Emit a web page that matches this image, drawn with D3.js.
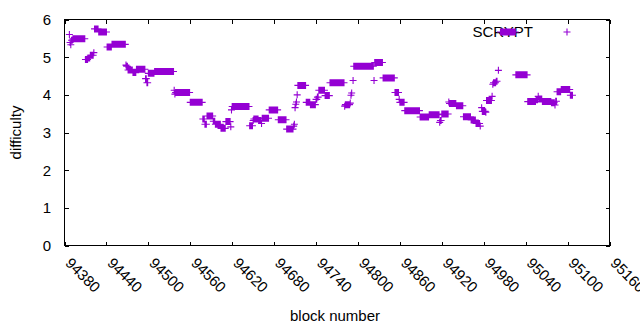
<!DOCTYPE html>
<html><head><meta charset="utf-8">
<script src="https://cdn.jsdelivr.net/npm/d3@7"></script>
<style>body{margin:0;background:#fff}svg{display:block}text{font-family:"Liberation Sans",Arial,sans-serif}</style>
</head><body><svg id="c" width="640" height="330"></svg>
<script>
// Run-length data: each block from runStart..runEnd has difficulty runDiff
const runStart=[94387,94388,94389,94390,94392,94410,94414,94417,94422,94423,94429,94441,94448,94468,94469,94471,94478,94483,94496,94498,94500,94509,94537,94538,94539,94560,94578,94581,94584,94593,94596,94604,94611,94618,94619,94620,94645,94650,94651,94658,94662,94663,94673,94686,94698,94708,94709,94710,94711,94712,94713,94714,94726,94732,94740,94742,94744,94753,94760,94781,94782,94789,94790,94791,94793,94794,94823,94824,94836,94853,94859,94860,94867,94889,94902,94917,94918,94920,94930,94931,94941,94951,94962,94969,94975,94977,94978,94983,94984,94992,94993,94994,94998,95001,95004,95026,95043,95055,95058,95059,95064,95077,95082,95083,95085,95091,95104];
const runEnd=[94387,94388,94389,94391,94409,94413,94416,94421,94422,94428,94440,94447,94467,94468,94470,94477,94482,94495,94497,94499,94508,94536,94537,94538,94559,94577,94580,94583,94592,94595,94603,94610,94617,94618,94619,94644,94649,94650,94657,94661,94662,94672,94685,94697,94707,94708,94709,94710,94711,94712,94713,94725,94731,94739,94741,94743,94752,94759,94780,94781,94788,94789,94790,94791,94793,94822,94823,94835,94852,94858,94859,94866,94888,94901,94916,94917,94919,94929,94930,94940,94950,94961,94968,94974,94975,94977,94982,94983,94991,94992,94993,94997,94999,95001,95025,95042,95054,95057,95058,95063,95076,95081,95082,95084,95090,95103,95107];
const runDiff=[5.60,5.39,5.33,5.45,5.49,4.94,4.98,5.05,5.12,5.75,5.67,5.27,5.34,4.79,4.76,4.66,4.59,4.68,4.43,4.32,4.57,4.62,4.12,4.02,4.06,3.80,3.36,3.22,3.44,3.30,3.22,3.11,3.29,3.15,3.60,3.69,3.18,3.32,3.36,3.32,3.24,3.38,3.60,3.34,3.09,3.17,3.22,3.66,3.75,3.81,4.00,4.25,3.80,3.74,3.88,3.94,4.12,3.98,4.32,3.70,3.74,3.78,3.99,4.05,4.38,4.76,4.38,4.86,4.45,4.06,3.88,3.80,3.58,3.41,3.47,3.27,3.32,3.49,3.81,3.77,3.71,3.42,3.33,3.24,3.17,3.66,3.56,3.54,3.85,3.96,4.28,4.32,4.36,4.65,5.67,4.53,3.82,3.87,3.96,3.89,3.82,3.79,3.73,3.83,4.08,4.14,3.99];
const xTicks=[94380,94440,94500,94560,94620,94680,94740,94800,94860,94920,94980,95040,95100,95160];
const yTicks=[0,1,2,3,4,5,6];
const seriesName="SCRYPT";

const points=[];
runStart.forEach((s,i)=>{for(let b=s;b<=runEnd[i];b++)points.push({block:b,diff:runDiff[i]});});

const svg=d3.select("#c");
const L=64.5,R=609.5,T=19.5,B=245.5;
const x=d3.scaleLinear().domain([94380,95160]).range([L,R]);
const y=d3.scaleLinear().domain([0,6]).range([B,T]);
const col="#9400d3";
const fs=15;

// ticks (inward, mirrored)
const tk=svg.append("g").attr("stroke","#000").attr("stroke-width",1).attr("shape-rendering","crispEdges");
xTicks.forEach(v=>{const px=Math.round(x(v))+0.5;
  tk.append("line").attr("x1",px).attr("x2",px).attr("y1",B).attr("y2",B-4);
  tk.append("line").attr("x1",px).attr("x2",px).attr("y1",T).attr("y2",T+4);});
yTicks.forEach(v=>{const py=Math.round(y(v))+0.5;
  tk.append("line").attr("x1",L).attr("x2",L+4).attr("y1",py).attr("y2",py);
  tk.append("line").attr("x1",R).attr("x2",R-4).attr("y1",py).attr("y2",py);});

// labels
yTicks.forEach(v=>svg.append("text").attr("x",51).attr("y",y(v)).attr("dy","0.36em")
  .attr("text-anchor","end").attr("font-size",fs).attr("fill","#000").text(v));
xTicks.forEach(v=>svg.append("text").attr("transform",`translate(${x(v)},264) rotate(45)`)
  .attr("font-size",fs).attr("fill","#000").text(v));
svg.append("text").attr("x",335).attr("y",321).attr("text-anchor","middle").attr("font-size",fs).text("block number");
svg.append("text").attr("transform","translate(21,132.5) rotate(-90)").attr("text-anchor","middle").attr("font-size",fs).text("difficulty");

// legend text
svg.append("text").attr("x",533).attr("y",37).attr("text-anchor","end").attr("font-size",fs).attr("fill","#000").text(seriesName);

// points
const h=3.5;
const plus=(px,py)=>`M${px-h},${py}h${2*h}M${px},${py-h}v${2*h}`;
svg.append("path").attr("fill","none").attr("stroke",col).attr("stroke-width",1.1)
  .attr("d",points.map(p=>plus(x(p.block),y(p.diff))).join(""));
svg.append("path").attr("fill","none").attr("stroke",col).attr("stroke-width",1.1).attr("d",plus(567,32));

// frame
svg.append("rect").attr("x",L).attr("y",T).attr("width",R-L).attr("height",B-T)
  .attr("fill","none").attr("stroke","#000").attr("stroke-width",1).attr("shape-rendering","crispEdges");
</script></body></html>
